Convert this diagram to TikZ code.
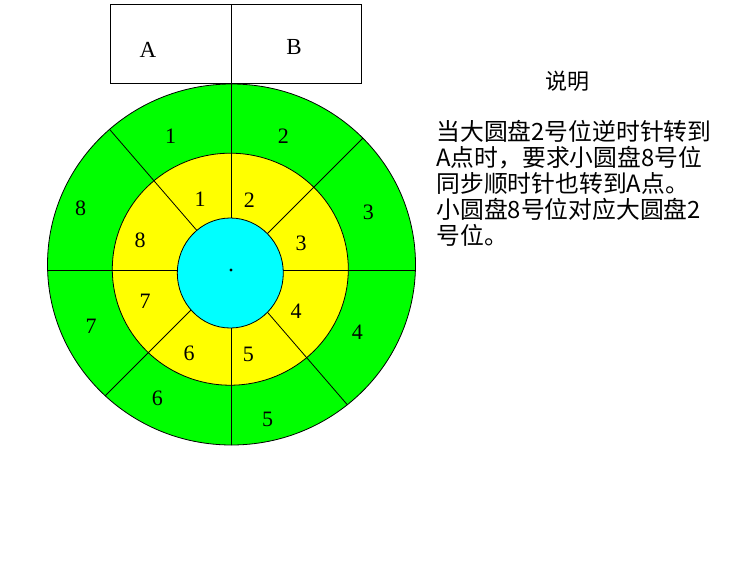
\documentclass[tikz,border=0pt]{standalone}
\usepackage{fontspec}
\setmainfont{Liberation Serif}
\newfontfamily\cjk{Noto Sans CJK SC}
\usetikzlibrary{positioning}
\definecolor{discGreen}{HTML}{00FF00}
\definecolor{discYellow}{HTML}{FFFF00}
\definecolor{hubCyan}{HTML}{00FFFF}

\begin{document}
\begin{tikzpicture}[x=1pt, y=-1pt, line width=0.8pt,
        num/.style={font=\fontsize{22}{22}\selectfont, inner sep=0},
        lbl/.style={font=\fontsize{23}{23}\selectfont, inner sep=0},
        note/.style={font=\cjk\fontsize{23.8}{26.1}\selectfont, align=left, inner sep=0}]
    \useasboundingbox (0,0) rectangle (746,565);
    \fill[white] (0,0) rectangle (746,565);
    \coordinate (c) at (231,270);
    % boxes A and B
    \draw (110.7,4.7) rectangle (231.5,83.3);
    \draw (231.5,4.7) rectangle (361,83.3);
    \node[lbl] (a) at (148,50) {A};
    \node[lbl] (b) at (294,47) {B};
    % big disc and small disc
    \draw[fill=discGreen] (231.5,264.5) ellipse [x radius=184, y radius=180.5];
    \draw[fill=discYellow] (230.3,269.2) ellipse [x radius=118, y radius=116];
    \begin{scope}
        \clip (231.5,264.5) ellipse [x radius=184, y radius=180.5];
        \draw (231.5,0) -- (231.5,470);
        \draw (30,270) -- (430,270);
        \draw (51,61.5) -- (411,478.5);
        \draw (421,80) -- (41,460);
    \end{scope}
    \draw[fill=hubCyan] (230.3,273) ellipse [x radius=53, y radius=55];
    \fill (c) circle (1.6);
    % numbers
    \foreach \n/\x/\y in {1/170.7/136.7, 2/283.3/136.7, 3/368.3/212.3, 4/357.3/332.3,
            5/267.7/419, 6/157.3/398.3, 7/91/326.7, 8/80.7/208.3}
        \node[num] (big\n) at (\x,\y) {\n};
    \foreach \n/\x/\y in {1/200/199.3, 2/249.3/200, 3/301/243.3, 4/296/311.7,
            5/248.3/354, 6/189/353.3, 7/145/301.7, 8/140/240}
        \node[num] (small\n) at (\x,\y) {\n};
    % note
    \node[font=\cjk\fontsize{22}{22}\selectfont, inner sep=0] (title) at (567,81) {说明};
    \node[note, anchor=west] (txt) at (436,183.5) {当大圆盘2号位逆时针转到\\A点时，要求小圆盘8号位\\同步顺时针也转到A点。\\小圆盘8号位对应大圆盘2\\号位。};
\end{tikzpicture}
\end{document}
